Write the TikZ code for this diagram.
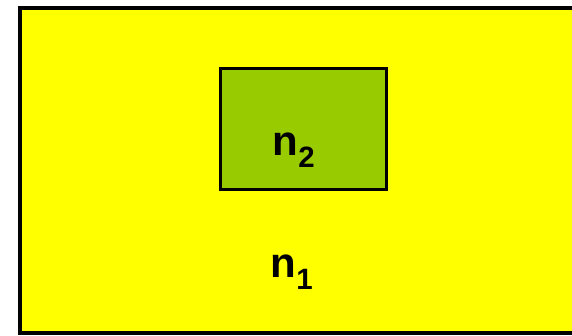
\documentclass[tikz,border=0pt]{standalone}
\usepackage{fontspec}
\setmainfont{Liberation Sans}
\usetikzlibrary{positioning}
\definecolor{fieldyellow}{HTML}{FFFF00}
\definecolor{regiongreen}{HTML}{99CC00}
\tikzset{
  outerbox/.style = {rectangle, draw=black, line width=4.5pt, fill=fieldyellow, minimum width=560pt, minimum height=325pt, inner sep=0pt},
  innerbox/.style = {rectangle, draw=black, line width=3pt, fill=regiongreen, minimum width=166pt, minimum height=121pt, inner sep=0pt},
  idx/.style = {font=\fontsize{42}{48}\selectfont\bfseries, inner sep=0pt}
}
\begin{document}
\begin{tikzpicture}[x=1pt, y=-1pt]
\useasboundingbox (0,0) rectangle (572,336);
\clip (0,0) rectangle (572,336);

% Outer medium
\node[outerbox] (outer) at (299.75,170.5) {};

% Inner region
\node[innerbox] (inner) at (303.5,129) {};

% Labels
\node[idx] (ntwo) at (294,150) {n\textsubscript{2}};
\node[idx] (none) at (292,272) {n\textsubscript{1}};

\end{tikzpicture}
\end{document}
